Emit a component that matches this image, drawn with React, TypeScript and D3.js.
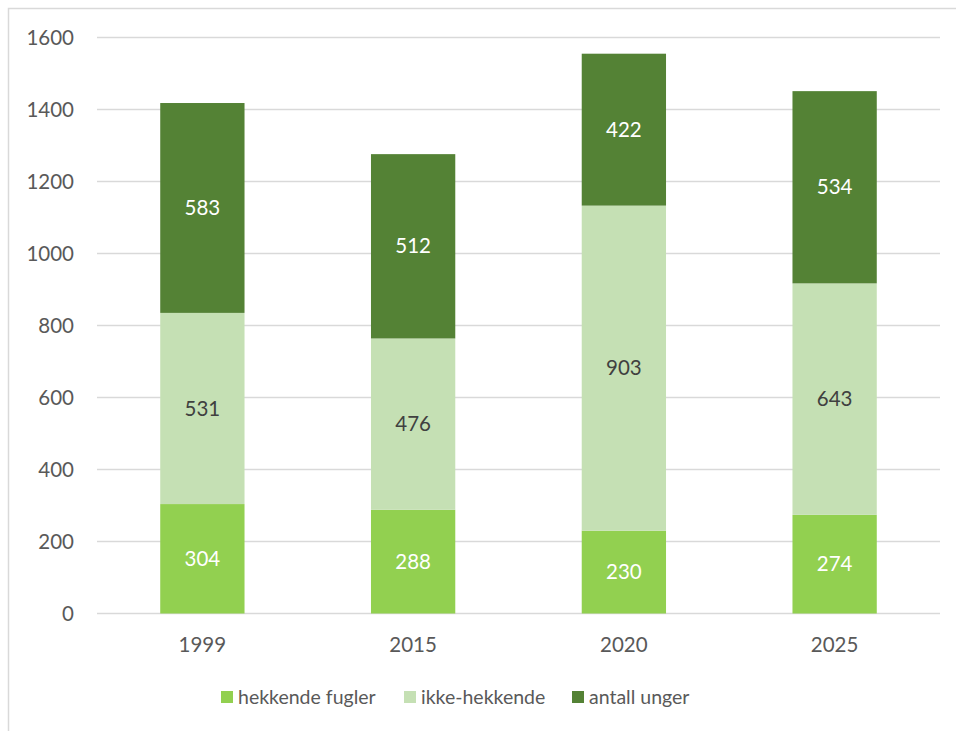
import React from "react";
import * as d3 from "d3";

const years = ["1999", "2015", "2020", "2025"];
const hekkende = [304, 288, 230, 274];
const ikkeHekkende = [531, 476, 903, 643];
const antallUnger = [583, 512, 422, 534];
const seriesNames = ["hekkende fugler", "ikke-hekkende", "antall unger"];
const yTicks = [0, 200, 400, 600, 800, 1000, 1200, 1400, 1600];

const colors = ["#92D050", "#C5E0B4", "#548235"];
const labelColors = ["#FFFFFF", "#404040", "#FFFFFF"];
const FONT = "Lato, 'Open Sans', sans-serif";

export default function App() {
  const W = 956, H = 731;
  const left = 97, right = 940, top = 37.5, bottom = 613.5;
  const x = d3.scaleBand().domain(years).range([left, right]).paddingInner(0.6).paddingOuter(0.3);
  const y = d3.scaleLinear().domain([0, 1600]).range([bottom, top]);

  const rows = years.map((yr, i) => ({ year: yr, s0: hekkende[i], s1: ikkeHekkende[i], s2: antallUnger[i] }));
  const stack = d3.stack<any>().keys(["s0", "s1", "s2"]);
  const layers = stack(rows);

  const legendX = [221, 404, 572];

  return (
    <svg width={W} height={H} style={{ position: "absolute", left: 0, top: 0 }}>
      <rect x={0} y={0} width={W} height={H} fill="#fff" />
      <rect x={8.5} y={8.5} width={W + 20} height={H + 20} fill="none" stroke="#D9D9D9" strokeWidth={1.5} />
      {yTicks.map((t) => (
        <g key={t}>
          <line x1={left} x2={right} y1={y(t)} y2={y(t)} stroke="#D9D9D9" strokeWidth={1.5} />
          <text x={74} y={y(t)} dy="0.35em" textAnchor="end" fontFamily={FONT} fontSize={20.5} fill="#595959">
            {t}
          </text>
        </g>
      ))}
      {layers.map((layer, li) => (
        <g key={li}>
          {layer.map((d: any, i: number) => (
            <g key={i}>
              <rect
                x={x(years[i])!}
                y={y(d[1])}
                width={x.bandwidth()}
                height={y(d[0]) - y(d[1])}
                fill={colors[li]}
              />
              <text
                x={x(years[i])! + x.bandwidth() / 2}
                y={(y(d[0]) + y(d[1])) / 2}
                dy="0.35em"
                textAnchor="middle"
                fontFamily={FONT}
                fontSize={20.5}
                fill={labelColors[li]}
              >
                {d[1] - d[0]}
              </text>
            </g>
          ))}
        </g>
      ))}
      {years.map((yr) => (
        <text key={yr} x={x(yr)! + x.bandwidth() / 2} y={645} dy="0.35em" textAnchor="middle" fontFamily={FONT} fontSize={20.5} fill="#595959">
          {yr}
        </text>
      ))}
      {seriesNames.map((n, i) => (
        <g key={n}>
          <rect x={legendX[i]} y={691} width={12} height={12} fill={colors[i]} />
          <text x={legendX[i] + 17} y={697} dy="0.35em" fontFamily={FONT} fontSize={19.5} fill="#595959">
            {n}
          </text>
        </g>
      ))}
    </svg>
  );
}
